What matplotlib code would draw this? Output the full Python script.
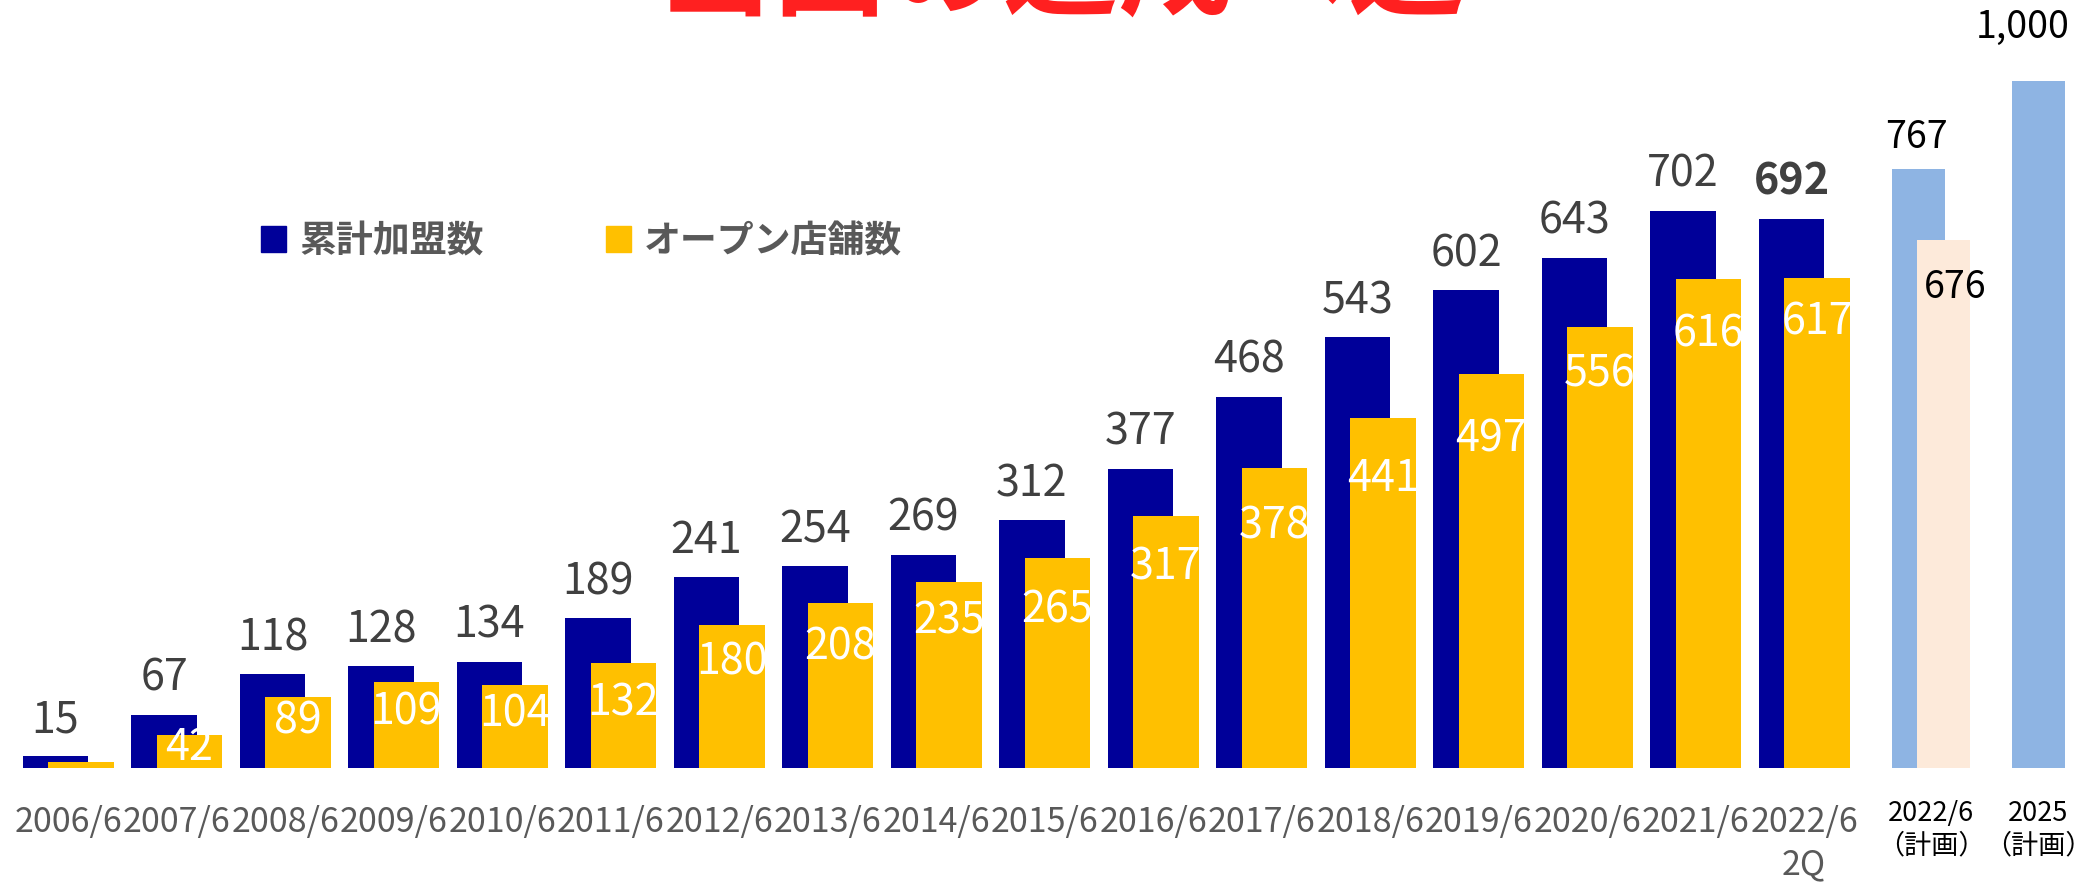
import numpy as np
import matplotlib
matplotlib.use("Agg")
import matplotlib.pyplot as plt
from matplotlib.patches import Patch

plt.rcParams['font.family'] = ['Noto Sans CJK JP', 'DejaVu Sans']

# data
years = ['2006/6', '2007/6', '2008/6', '2009/6', '2010/6', '2011/6', '2012/6', '2013/6',
         '2014/6', '2015/6', '2016/6', '2017/6', '2018/6', '2019/6', '2020/6', '2021/6',
         '2022/6\n2Q']
members = [15, 67, 118, 128, 134, 189, 241, 254, 269, 312, 377, 468, 543, 602, 643, 702, 692]
opens = [7, 42, 89, 109, 104, 132, 180, 208, 235, 265, 317, 378, 441, 497, 556, 616, 617]
plan_label = '2022/6\n（計画）'
plan_members = 767
plan_opens = 676
goal_label = '2025\n（計画）'
goal_members = 1000

# label drop below yellow bar top (px), hand placed in original
drop_px = [0, 13, 24, 31, 29, 40, 37, 45, 40, 53, 51, 58, 61, 66, 48, 55, 44]

NAVY = '#000099'
YELLOW = '#FFC000'
LBLUE = '#8EB4E3'
PEACH = '#FDEADA'

W, H = 2096, 883
base = 768
fig = plt.figure(figsize=(W / 100, H / 100), dpi=100)
bot = (H - base) / H
hgt = base / H
px = 72 / 100  # points per pixel

ax = fig.add_axes([0, bot, 1880 / W, hgt])
x = np.arange(len(years))
off = 0.117
bw = 0.604
ax.bar(x - off, members, bw, color=NAVY, zorder=2)
ax.bar(x + off, opens, bw, color=YELLOW, zorder=3)
ax.set_xlim(-0.6286, -0.6286 + 1880 / 108.5)
ax.set_ylim(0, base / 0.7935)
ax.set_xticks(x, years)
ax.tick_params(axis='x', length=0, pad=37 * px, labelsize=24.5, labelcolor='#595959')
for t in ax.get_xticklabels():
    t.set_linespacing(1.28)
ax.set_yticks([])
for s in ax.spines.values():
    s.set_visible(False)
ax.patch.set_visible(False)

for i, v in enumerate(members):
    ax.annotate(f'{v}', (x[i] - off, v), xytext=(0, 24 * px), textcoords='offset points',
                ha='center', va='baseline', fontsize=31, color='#404040',
                fontweight='bold' if i == len(members) - 1 else 'normal')
for i, v in enumerate(opens):
    if drop_px[i] == 0:
        continue
    ax.annotate(f'{v}', (x[i] + off, v), xytext=(0, -drop_px[i] * px), textcoords='offset points',
                ha='center', va='center', fontsize=31, color='white', zorder=4)

# plan 2022/6
ax2 = fig.add_axes([1871 / W, bot, 120 / W, hgt])
ax2.bar([-0.104], [plan_members], 0.442, color=LBLUE)
ax2.bar([0.104], [plan_opens], 0.442, color=PEACH)
ax2.set_xlim(-0.5, 0.5)
ax2.set_ylim(0, base / 0.781)
ax2.set_xticks([0], [plan_label])
ax2.annotate(f'{plan_members}', (-0.12, plan_members), xytext=(0, 21 * px), textcoords='offset points',
             ha='center', va='baseline', fontsize=27, color='black')
ax2.annotate(f'{plan_opens}', (0.2, plan_opens), xytext=(0, -58 * px), textcoords='offset points',
             ha='center', va='baseline', fontsize=27, color='black')

# plan 2025
ax3 = fig.add_axes([1990 / W, bot, 97 / W, hgt])
ax3.bar([0], [goal_members], 0.546, color=LBLUE)
ax3.set_xlim(-0.5, 0.5)
ax3.set_ylim(0, base / 0.687)
ax3.set_xticks([0], [goal_label])
ax3.annotate(f'{goal_members:,}', (-0.16, goal_members), xytext=(0, 43 * px), textcoords='offset points',
             ha='center', va='baseline', fontsize=27, color='black')

for a in (ax2, ax3):
    a.tick_params(axis='x', length=0, pad=32 * px, labelsize=19.5, labelcolor='black')
    for t in a.get_xticklabels():
        t.set_linespacing(1.25)
    a.set_yticks([])
    for s in a.spines.values():
        s.set_visible(False)
    a.patch.set_visible(False)

# legend
handles = [Patch(color=NAVY, label='累計加盟数'), Patch(color=YELLOW, label='オープン店舗数')]
ax.legend(handles=handles, loc='upper left', bbox_to_anchor=(261 / W, 1 - 223 / H),
          bbox_transform=fig.transFigure, ncol=2, frameon=False,
          prop={'size': 26.6, 'weight': 'bold'}, labelcolor='#595959',
          handlelength=0.68, handleheight=0.68, handletextpad=0.36, columnspacing=3.3,
          borderpad=0, borderaxespad=0)

# red headline, cut off at the top of the slide
fig.text(658 / W, 1 - 7 / H, '当面の達成へ道', fontsize=83, fontweight='bold', color='#FF2020',
         ha='left', va='baseline')

fig.savefig('out.png', dpi=100)
